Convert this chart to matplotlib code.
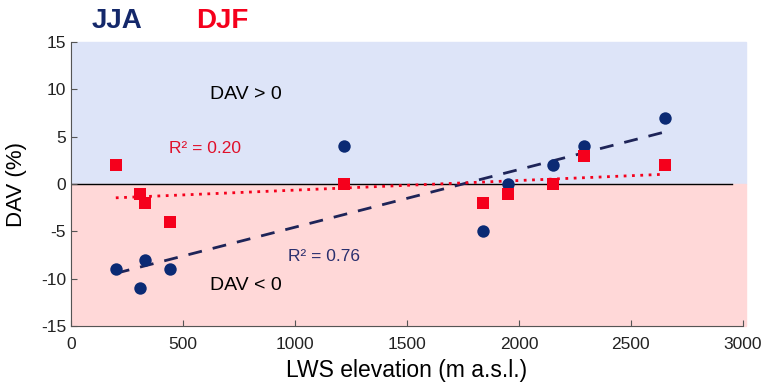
import numpy as np
import matplotlib
matplotlib.use("Agg")
import matplotlib.pyplot as plt

plt.rcParams['font.family'] = ['Liberation Sans', 'DejaVu Sans']
plt.rcParams['axes.unicode_minus'] = False

# --- data ---
elev = [200, 310, 330, 440, 1220, 1840, 1950, 2150, 2290, 2650]
dav_jja = [-9, -11, -8, -9, 4, -5, 0, 2, 4, 7]
dav_djf = [2, -1, -2, -4, 0, -2, -1, 0, 3, 2]
r2_jja = "R² = 0.76"
r2_djf = "R² = 0.20"

navy = '#0B2A74'
navy_dark = '#1E2458'
red = '#F5001C'

fig = plt.figure(figsize=(7.67, 3.85), dpi=100)
ax = fig.add_axes([0.0926, 0.153, 0.876, 0.738])

# background halves
ax.axhspan(0, 15, xmin=0, xmax=1.005, color='#DDE4F8', zorder=0, clip_on=False)
ax.axhspan(-15, 0, xmin=0, xmax=1.005, color='#FFD8D8', zorder=0, clip_on=False)
ax.plot([0, 2950], [0, 0], color='black', lw=1.0, zorder=1)

# linear trends
x = np.array(elev, dtype=float)
xs = np.array([min(elev), max(elev)], dtype=float)
pj = np.polyfit(x, dav_jja, 1)
pd_ = np.polyfit(x, dav_djf, 1)
ax.plot(xs, np.polyval(pj, xs), color=navy_dark, lw=2, ls=(0, (5, 4)), zorder=2)
ax.plot(xs, np.polyval(pd_, xs), color=red, lw=2, ls=(0, (1, 2)), zorder=2)

ax.scatter(elev, dav_jja, marker='o', s=80, color=navy, zorder=3, linewidths=0)
ax.scatter(elev, dav_djf, marker='s', s=80, color=red, zorder=4, linewidths=0)

ax.set_xlim(0, 3000)
ax.set_ylim(-15, 15)
ax.set_xticks(np.arange(0, 3001, 500))
ax.set_yticks(np.arange(-15, 16, 5))
ax.tick_params(direction='in', length=4, labelsize=12.5, colors='#555555', labelcolor='#222222')
ax.tick_params(axis='x', pad=8)
for s in ['top', 'right']:
    ax.spines[s].set_visible(False)
for s in ['left', 'bottom']:
    ax.spines[s].set_color('#555555')

ax.set_xlabel("LWS elevation (m a.s.l.)", fontsize=16.5, labelpad=5)
ax.set_ylabel("DAV (%)", fontsize=16)
ax.yaxis.set_label_coords(-0.066, 0.5)

ax.text(780, 9.5, "DAV > 0", fontsize=14, ha='center', va='center')
ax.text(780, -10.7, "DAV < 0", fontsize=14, ha='center', va='center')
ax.text(600, 3.8, r2_djf, fontsize=12.5, color='#E0102A', ha='center', va='center')
ax.text(1130, -7.6, r2_jja, fontsize=12.5, color='#2A2F6E', ha='center', va='center')

fig.text(0.153, 0.945, "JJA", fontsize=20, fontweight='bold', color='#14286A', ha='center', va='center')
fig.text(0.290, 0.945, "DJF", fontsize=20, fontweight='bold', color=red, ha='center', va='center')

fig.savefig("out.png", dpi=100)
